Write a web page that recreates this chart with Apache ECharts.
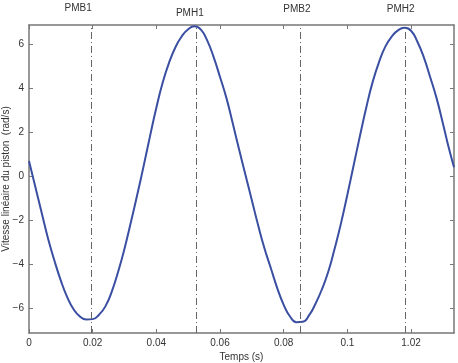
<!DOCTYPE html>
<html>
<head>
<meta charset="utf-8">
<script src="https://cdn.jsdelivr.net/npm/echarts@6/dist/echarts.min.js"></script>
<style>
  html, body { margin: 0; padding: 0; background: #fff; }
  #chart { width: 458px; height: 363px; }
</style>
</head>
<body>
<div id="chart"></div>
<script>
// temps (s) et vitesse (rad/s)
const timeData = [
  0, 0.002, 0.004, 0.006, 0.008, 0.010, 0.012, 0.014, 0.016, 0.018,
  0.020, 0.022, 0.024, 0.026, 0.028, 0.030, 0.032, 0.034, 0.036, 0.038,
  0.040, 0.042, 0.044, 0.046, 0.048, 0.050, 0.052, 0.054, 0.056, 0.058,
  0.060, 0.062, 0.064, 0.066, 0.068, 0.070, 0.072, 0.074, 0.076, 0.078,
  0.080, 0.082, 0.084, 0.086, 0.088, 0.090, 0.092, 0.094, 0.096, 0.098,
  0.100, 0.102, 0.104, 0.106, 0.108, 0.110, 0.112, 0.114, 0.116, 0.118,
  0.120, 0.122, 0.124, 0.126, 0.128, 0.130, 0.132, 0.1335
];
const speedData = [
  0.68, -0.5, -1.68, -2.85, -3.85, -4.75, -5.5, -6.05, -6.38, -6.52,
  -6.5, -6.3, -5.92, -5.25, -4.35, -3.3, -2.1, -0.85, 0.45, 1.8,
  3.1, 4.25, 5.15, 5.85, 6.35, 6.67, 6.8, 6.65, 6.15, 5.4,
  4.5, 3.55, 2.4, 1.2, 0.05, -1.1, -2.25, -3.3, -4.2, -5.1,
  -5.85, -6.38, -6.64, -6.62, -6.32, -5.8, -5.15, -4.35, -3.3, -2.15,
  -0.85, 0.5, 1.85, 3.15, 4.3, 5.2, 5.9, 6.35, 6.63, 6.73,
  6.6, 6.1, 5.4, 4.5, 3.55, 2.4, 1.2, 0.4
];

// points morts
const eventNames = ['PMB1', 'PMH1', 'PMB2', 'PMH2'];
const eventTimes = [0.0195, 0.0524, 0.0851, 0.1183];

const xTicks = [0, 0.02, 0.04, 0.06, 0.08, 0.1, 0.12];
const xTickLabels = ['0', '0.02', '0.04', '0.06', '0.08', '0.1', '1.02'];
const yTicks = [-6, -4, -2, 0, 2, 4, 6];

const X_MIN = 0, X_MAX = 0.1335;
const Y_MIN = -7.13, Y_MAX = 6.86;

const FONT = 'Liberation Sans, Arial, sans-serif';
const AXIS_COLOR = '#777';
const TEXT_COLOR = '#333';

const chart = echarts.init(document.getElementById('chart'));

function makeXAxis(position, showLabels) {
  return {
    type: 'value',
    position: position,
    min: X_MIN,
    max: X_MAX,
    name: showLabels ? 'Temps (s)' : '',
    nameLocation: 'middle',
    nameGap: 19,
    nameMoveOverlap: false,
    nameTextStyle: { fontFamily: FONT, fontSize: 10, color: TEXT_COLOR },
    axisLine: { show: true, onZero: false, lineStyle: { color: AXIS_COLOR, width: 1.5 } },
    axisTick: { show: true, inside: true, length: 4, customValues: xTicks,
                lineStyle: { color: AXIS_COLOR } },
    axisLabel: {
      show: showLabels,
      customValues: xTicks,
      margin: 5,
      fontFamily: FONT, fontSize: 10, color: TEXT_COLOR,
      formatter: v => xTickLabels[xTicks.indexOf(Math.round(v * 100) / 100)]
    },
    splitLine: { show: false }
  };
}

function makeYAxis(position, showLabels) {
  return {
    type: 'value',
    position: position,
    min: Y_MIN,
    max: Y_MAX,
    name: showLabels ? 'Vitesse linéaire du piston  (rad/s)' : '',
    nameLocation: 'middle',
    nameGap: 18,
    nameMoveOverlap: false,
    nameTextStyle: { fontFamily: FONT, fontSize: 10, color: TEXT_COLOR },
    axisLine: { show: true, onZero: false, lineStyle: { color: AXIS_COLOR, width: 1.5 } },
    axisTick: { show: true, inside: true, length: 4, customValues: yTicks,
                lineStyle: { color: AXIS_COLOR } },
    axisLabel: {
      show: showLabels,
      customValues: yTicks,
      margin: 5,
      fontFamily: FONT, fontSize: 10, color: TEXT_COLOR,
      formatter: v => (v < 0 ? '\u2212' + Math.abs(v) : String(v))
    },
    splitLine: { show: false }
  };
}

const option = {
  backgroundColor: '#fff',
  animation: false,
  grid: {
    left: 29, right: 4, top: 25, bottom: 30,
    containLabel: false,
    outerBoundsMode: 'none'
  },
  xAxis: [makeXAxis('bottom', true), makeXAxis('top', false)],
  yAxis: [makeYAxis('left', true), makeYAxis('right', false)],
  series: [{
    type: 'line',
    data: timeData.map((t, i) => [t, speedData[i]]),
    smooth: 0.5,
    showSymbol: false,
    clip: true,
    lineStyle: { color: '#3a4fa2', width: 2 },
    markLine: {
      silent: true,
      symbol: 'none',
      precision: 5,
      label: { show: false },
      lineStyle: { color: '#666', width: 1, type: [7, 3, 1, 3] },
      data: eventTimes.map(t => ({ xAxis: t }))
    }
  }]
};

chart.setOption(option);

// étiquettes au-dessus des lignes verticales
const labelOffsets = [[-13, 8], [-6, 13], [-3, 9], [-5, 9]];
chart.setOption({
  graphic: eventNames.map((name, i) => {
    const px = chart.convertToPixel({ xAxisIndex: 0 }, eventTimes[i]);
    return {
      type: 'text',
      x: px + labelOffsets[i][0],
      y: labelOffsets[i][1],
      style: {
        text: name,
        fill: TEXT_COLOR,
        font: '10px ' + FONT,
        align: 'center',
        verticalAlign: 'middle'
      }
    };
  })
});
</script>
</body>
</html>
